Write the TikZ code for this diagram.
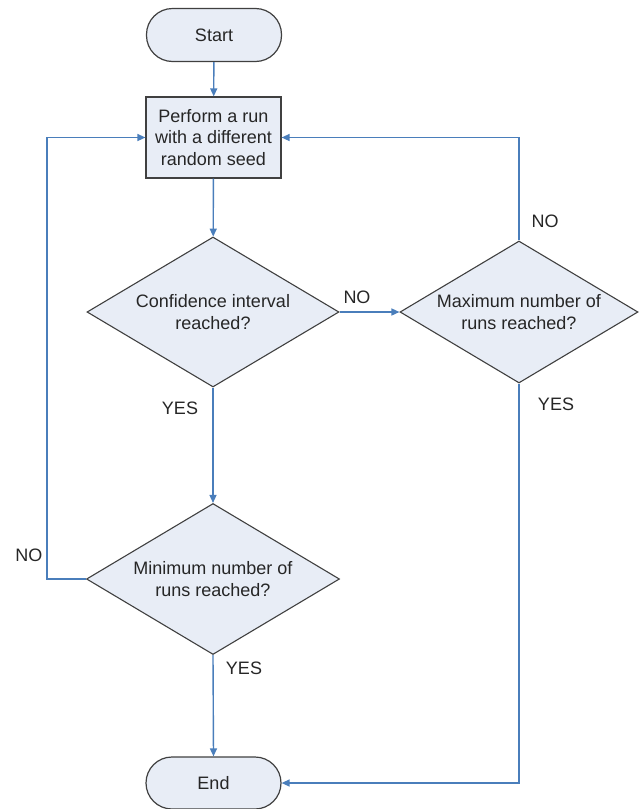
\documentclass[tikz,border=0pt]{standalone}
\usepackage{fontspec}
\setmainfont{Liberation Sans}
\usetikzlibrary{shapes.geometric,arrows.meta}
\definecolor{boxfill}{HTML}{E8EDF6}
\definecolor{boxline}{HTML}{404040}
\definecolor{linkblue}{HTML}{4A7EBB}
\definecolor{txt}{HTML}{262626}
\tikzset{
  every node/.style={font=\fontsize{18}{21.6}\selectfont, text=txt},
  terminal/.style={draw=boxline, fill=boxfill, line width=1.2pt, rectangle, rounded corners=26pt, minimum width=135pt, minimum height=53pt, inner sep=0pt},
  process/.style={draw=boxline, fill=boxfill, line width=1.2pt, rectangle, minimum width=135pt, minimum height=81pt, inner sep=0pt, align=center},
  decision/.style={draw=boxline, fill=boxfill, line width=1.1pt, diamond, aspect=1.68, inner sep=0pt, align=center},
  link/.style={draw=linkblue, line width=1.4pt, -{Triangle[length=8pt,width=7pt]}},
  lbl/.style={inner sep=0pt}
}
\begin{document}
\begin{tikzpicture}[x=1pt,y=-1pt]
\useasboundingbox (0,0) rectangle (639,809);
\node[terminal] (start) at (214,35) {Start};
\node[process] (run) at (213.5,137.5) {Perform a run\\with a different\\random seed};
\node[decision, minimum width=252pt, minimum height=150pt] (conf) at (213,312) {Confidence interval\\reached?};
\node[decision, minimum width=238pt, minimum height=142pt] (maxr) at (519,312) {Maximum number of\\runs reached?};
\node[decision, minimum width=253pt, minimum height=151pt] (minr) at (213,579) {Minimum number of\\runs reached?};
\node[terminal, minimum height=52pt] (end) at (213.5,783) {End};
\coordinate (lx) at (47,579);

\draw[link] (start) -- (run);
\draw[link] (run) -- (conf);
\draw[link] (conf.east) -- (maxr.west);
\draw[link] (maxr.north) |- (run.east);
\draw[link] (conf.south) -- (minr.north);
\draw[link] (minr.west) -- (lx) |- (run.west);
\draw[link] (minr.south) -- (end.north);
\draw[link] (maxr.south) |- (end.east);

\node[lbl] (no1) at (357,297) {NO};
\node[lbl] (no2) at (545,221) {NO};
\node[lbl] (yes1) at (180,408) {YES};
\node[lbl] (yes2) at (556,404) {YES};
\node[lbl] (no3) at (29,555) {NO};
\node[lbl] (yes3) at (244,668) {YES};
\end{tikzpicture}
\end{document}
